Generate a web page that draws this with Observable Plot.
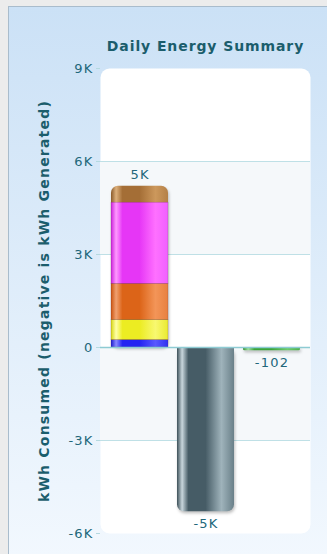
<!DOCTYPE html>
<html>
<head>
<meta charset="utf-8">
<script src="https://cdn.jsdelivr.net/npm/d3@7"></script>
<script src="https://cdn.jsdelivr.net/npm/@observablehq/plot@0.6"></script>
<style>
  html, body { margin: 0; padding: 0; }
  #wrap { position: relative; width: 327px; height: 554px; background: #ececec; overflow: hidden; font-family: "DejaVu Sans", Verdana, sans-serif; }
  #panel { position: absolute; left: 8px; top: 6px; right: -4px; bottom: -4px; border: 1px solid #a9bccc; background: linear-gradient(#cbe1f6, #f2f8fe); }
  #chart { position: absolute; left: 0; top: 0; }
</style>
</head>
<body>
<div id="wrap">
  <div id="panel"></div>
  <div id="chart"></div>
</div>
<script>
// ---- data ----
const bars = ["Consumed", "Generated", "Net"];
const loads = ["Load A", "Load B", "Load C", "Load D", "Load E"];
const loadValues = [240, 650, 1160, 2620, 530];
const generatedValue = -5302;
const netValue = -102;
const yTicks = [-6000, -3000, 0, 3000, 6000, 9000];
const title = "Daily Energy Summary";
const yLabel = "kWh Consumed (negative is kWh Generated)";

// ---- derived tables ----
const segments = loads.map((load, i) => ({bar: bars[0], load, value: loadValues[i]}));
const consumedTotal = d3.sum(loadValues);
const totals = [
  {bar: bars[0], value: consumedTotal},
  {bar: bars[1], value: generatedValue},
  {bar: bars[2], value: netValue}
];
const bands = d3.pairs(yTicks).filter((_, i) => i % 2 === 1);
const fmt = v => Math.abs(v) >= 1000 ? Math.round(v / 1000) + "K" : String(v);

const loadGrads = ["url(#g-blue)", "url(#g-yellow)", "url(#g-orange)", "url(#g-magenta)", "url(#g-brown)"];
const textColor = "#22677a";
const titleColor = "#1b5d6c";

const chart = Plot.plot({
  width: 327,
  height: 554,
  marginLeft: 100,
  marginRight: 17,
  marginTop: 68,
  marginBottom: 21,
  style: {background: "transparent", fontFamily: "DejaVu Sans, Verdana, sans-serif", fontSize: "13px"},
  x: {type: "band", domain: bars, padding: 0.143, axis: null},
  y: {domain: [-6000, 9000], axis: null},
  color: {domain: loads, range: loadGrads},
  marks: [
    Plot.frame({fill: "white", stroke: "none", rx: 9}),
    Plot.rectY(bands, {y1: d => d[0], y2: d => d[1], fill: "#f5f8fa"}),
    Plot.ruleY(yTicks.filter(t => t !== 0 && t !== yTicks[0] && t !== yTicks[yTicks.length - 1]), {stroke: "#bfe0e6"}),
    Plot.axisY({ticks: yTicks, tickFormat: fmt, tickSize: 4, tickPadding: 3, stroke: "#b4d9e0", fill: textColor, label: null, fontSize: 13}),
    // stacked consumption bar: rounded top cap drawn as the full total underneath
    Plot.barY(totals.filter(d => d.bar === bars[0]), {x: "bar", y: "value", fill: "url(#g-brown)", rx: 7}),
    Plot.barY(segments.slice(0, -1), {x: "bar", y: "value", fill: "load", stroke: "rgba(90,40,60,0.35)", strokeWidth: 0.6}),
    // generated bar with rounded bottom
    Plot.barY(totals.filter(d => d.bar === bars[1]), {x: "bar", y: "value", fill: "url(#g-gray)", rx: 7}),
    Plot.barY(totals.filter(d => d.bar === bars[1]), {x: "bar", y1: 0, y2: d => d.value / 2, fill: "url(#g-gray)"}),
    // net bar
    Plot.barY(totals.filter(d => d.bar === bars[2]), {x: "bar", y: "value", fill: "url(#g-green)", rx: 1.5}),
    Plot.ruleY([0], {stroke: "#8ecbd3", strokeWidth: 1.5}),
    Plot.text(totals.filter(d => d.value >= 0), {x: "bar", y: "value", text: d => fmt(d.value), dy: -11, fill: textColor, fontSize: 13}),
    Plot.text(totals.filter(d => d.value < 0), {x: "bar", y: "value", text: d => fmt(d.value), dy: 12, fill: textColor, fontSize: 13}),
    Plot.text([title], {frameAnchor: "top", dy: -27, fill: titleColor, fontWeight: "bold", fontSize: 14}),
    Plot.text([yLabel], {frameAnchor: "left", dx: -56, rotate: -90, textAnchor: "middle", fill: titleColor, fontWeight: "bold", fontSize: 14})
  ]
});

// gradients for the cylinder look
const grads = {
  "g-blue":    ["#1a1ad0", "#8888ff", "#2424f2", "#5858ff", "#3030f0"],
  "g-yellow":  ["#d8d810", "#ffffa8", "#ecec22", "#f8f870", "#eaea30"],
  "g-orange":  ["#cc5410", "#f0a070", "#dc6418", "#f39558", "#e88040"],
  "g-magenta": ["#cc22dc", "#ff99ff", "#e636f6", "#ff70ff", "#f060ff"],
  "g-brown":   ["#8a5a2a", "#dcb07c", "#a46e36", "#cc985c", "#b48046"],
  "g-gray":    ["#3c5058", "#c8d6dc", "#465c66", "#9fb3bb", "#6a8089"],
  "g-green":   ["#2f8f2f", "#9de09d", "#3aa53a", "#6ccc6c", "#4cb04c"]
};
const svg = d3.select(chart);
const defs = svg.insert("defs", ":first-child");
for (const [id, c] of Object.entries(grads)) {
  const g = defs.append("linearGradient").attr("id", id).attr("x1", 0).attr("x2", 1).attr("y1", 0).attr("y2", 0);
  [[0, c[0]], [0.09, c[1]], [0.2, c[2]], [0.5, c[2]], [0.78, c[3]], [1, c[4]]].forEach(([o, col]) =>
    g.append("stop").attr("offset", o).attr("stop-color", col));
}
// letter spacing to match the wide bitmap-style lettering of the original
svg.selectAll("text").style("letter-spacing", "1.2px");
svg.selectAll('g[aria-label="text"]').filter((_, i, n) => i === n.length - 2).selectAll("text").style("letter-spacing", "0.9px");
svg.selectAll('g[aria-label="frame"]').style("filter", "drop-shadow(0px 1px 2.5px rgba(0,0,0,0.4))");
svg.selectAll('g[aria-label="bar"]').each(function(_, i) {
  if (i !== 1 && i !== 3) d3.select(this).style("filter", "drop-shadow(1px 2px 1.5px rgba(0,0,0,0.25))");
});
document.getElementById("chart").append(chart);
</script>
</body>
</html>
